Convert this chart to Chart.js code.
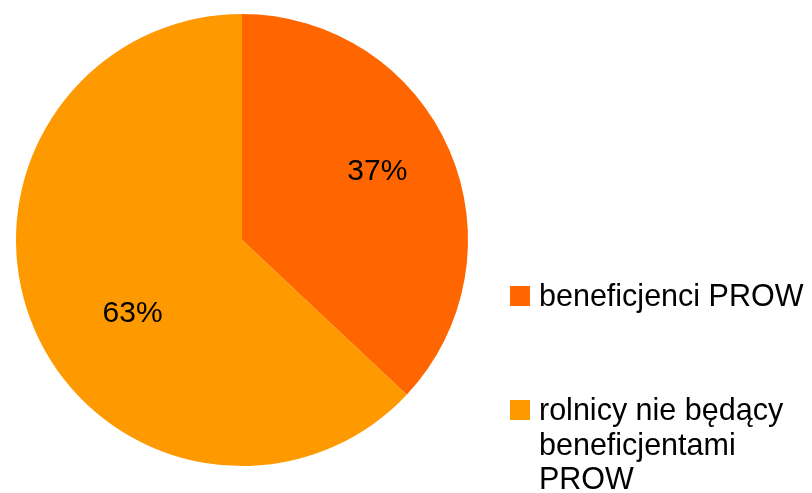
<!DOCTYPE html>
<html>
<head>
<meta charset="utf-8">
<script src="https://cdn.jsdelivr.net/npm/chart.js@4/dist/chart.umd.min.js"></script>
<style>
  html, body { margin: 0; padding: 0; background: #ffffff; }
  #wrap { width: 812px; height: 493px; position: relative; }
</style>
</head>
<body>
<div id="wrap"><canvas id="wykres"></canvas></div>
<script>
const kategorie = [
    "beneficjenci PROW",
    ["rolnicy nie będący", "beneficjentami", "PROW"]
];
const udzialy = [37, 63];
const etykiety = ["37%", "63%"];
const kolory = ["#ff6600", "#ff9900"];

// napisy procentowe na wycinkach
const procenty = {
    id: "procenty",
    afterDatasetsDraw(chart) {
        const ctx = chart.ctx;
        const meta = chart.getDatasetMeta(0);
        ctx.save();
        ctx.font = "30px 'Liberation Sans', Arial, sans-serif";
        ctx.fillStyle = "#000";
        ctx.textAlign = "center";
        ctx.textBaseline = "middle";
        meta.data.forEach(function (arc, i) {
            const p = arc.getProps(["x", "y", "startAngle", "endAngle", "outerRadius"], true);
            const kat = (p.startAngle + p.endAngle) / 2;
            const x = p.x + 13 + Math.cos(kat) * p.outerRadius * 0.59;
            const y = p.y + 3 + Math.sin(kat) * p.outerRadius * 0.79;
            ctx.fillText(etykiety[i], x, y);
        });
        ctx.restore();
    }
};

// legenda po prawej stronie
const legenda = {
    id: "legenda",
    afterDraw(chart) {
        const ctx = chart.ctx;
        ctx.save();
        ctx.font = "30.5px 'Liberation Sans', Arial, sans-serif";
        ctx.textBaseline = "alphabetic";
        ctx.textAlign = "left";
        const pozycjeY = [286, 400];
        kategorie.forEach(function (nazwa, i) {
            const y = pozycjeY[i];
            ctx.fillStyle = kolory[i];
            ctx.fillRect(510, y, 20, 20);
            ctx.fillStyle = "#000";
            const linie = Array.isArray(nazwa) ? nazwa : [nazwa];
            linie.forEach(function (linia, j) {
                ctx.fillText(linia, 539, y + 20 + j * 34.5);
            });
        });
        ctx.restore();
    }
};

new Chart(document.getElementById("wykres"), {
    type: "pie",
    data: {
        labels: kategorie,
        datasets: [{
            data: udzialy,
            backgroundColor: kolory,
            borderWidth: 0
        }]
    },
    options: {
        responsive: true,
        maintainAspectRatio: false,
        animation: false,
        layout: {
            padding: { left: 16, top: 14, right: 344, bottom: 27 }
        },
        plugins: {
            legend: { display: false },
            tooltip: { enabled: false }
        }
    },
    plugins: [procenty, legenda]
});
</script>
</body>
</html>
